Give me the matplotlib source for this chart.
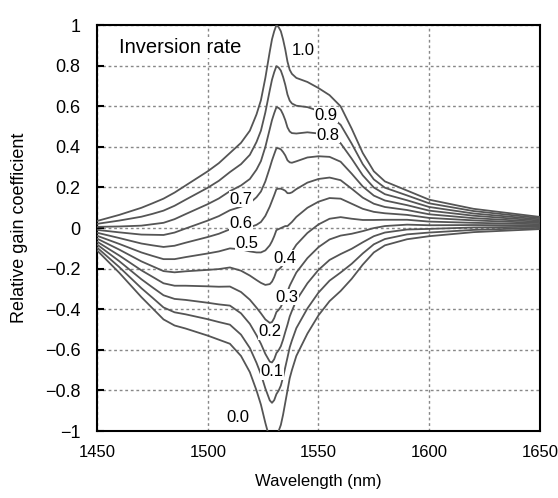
import matplotlib
matplotlib.use("Agg")
import matplotlib.pyplot as plt

plt.rcParams['font.family'] = ['Liberation Sans', 'DejaVu Sans']
plt.rcParams['font.size'] = 12

# wavelength grid (nm)
wavelength = [1450, 1460, 1470, 1475, 1480, 1485, 1490, 1500, 1505, 1510, 1515, 1519,
              1522, 1524, 1526, 1528, 1529, 1530, 1531, 1532, 1533, 1534,
              1535, 1536, 1537, 1538, 1540, 1545, 1550, 1555, 1560, 1565,
              1570, 1575, 1580, 1590, 1600, 1620, 1650]

# relative gain, one list per inversion rate
g00 = [-0.11, -0.22, -0.34, -0.395, -0.45, -0.48, -0.495, -0.53, -0.55, -0.57, -0.63, -0.71,
       -0.80, -0.87, -0.96, -1.04, -1.06, -1.05, -1.02, -1.00, -0.97, -0.92,
       -0.86, -0.80, -0.74, -0.70, -0.63, -0.52, -0.43, -0.36, -0.31, -0.25,
       -0.18, -0.12, -0.085, -0.055, -0.04, -0.02, -0.005]
g01 = [-0.096, -0.192, -0.296, -0.343, -0.391, -0.415, -0.425, -0.449, -0.463, -0.476, -0.525, -0.591,
       -0.664, -0.72, -0.79, -0.849, -0.861, -0.848, -0.818, -0.801, -0.776, -0.735,
       -0.686, -0.638, -0.588, -0.554, -0.493, -0.396, -0.318, -0.259, -0.219, -0.176,
       -0.125, -0.08, -0.054, -0.031, -0.022, -0.009, 0.001]
g02 = [-0.081, -0.163, -0.252, -0.292, -0.331, -0.349, -0.354, -0.368, -0.376, -0.382, -0.42, -0.472,
       -0.528, -0.57, -0.62, -0.658, -0.662, -0.646, -0.616, -0.602, -0.582, -0.55,
       -0.512, -0.476, -0.436, -0.408, -0.356, -0.272, -0.206, -0.157, -0.128, -0.102,
       -0.07, -0.04, -0.022, -0.007, -0.004, 0.003, 0.007]
g03 = [-0.067, -0.135, -0.208, -0.240, -0.272, -0.284, -0.284, -0.287, -0.289, -0.288, -0.315, -0.353,
       -0.392, -0.42, -0.45, -0.467, -0.463, -0.444, -0.414, -0.403, -0.388, -0.365,
       -0.338, -0.314, -0.284, -0.262, -0.219, -0.148, -0.094, -0.056, -0.037, -0.028,
       -0.015, 0.0, 0.010, 0.017, 0.014, 0.015, 0.013]
g04 = [-0.052, -0.106, -0.164, -0.188, -0.212, -0.218, -0.213, -0.206, -0.202, -0.194, -0.21, -0.234,
       -0.256, -0.27, -0.28, -0.276, -0.264, -0.242, -0.212, -0.204, -0.194, -0.18,
       -0.164, -0.152, -0.132, -0.116, -0.082, -0.024, 0.018, 0.046, 0.054, 0.046,
       0.04, 0.04, 0.041, 0.041, 0.032, 0.026, 0.019]
g05 = [-0.038, -0.078, -0.12, -0.137, -0.153, -0.153, -0.143, -0.125, -0.115, -0.10, -0.105, -0.115,
       -0.12, -0.12, -0.11, -0.085, -0.065, -0.04, -0.01, -0.005, 0.0, 0.005,
       0.01, 0.01, 0.02, 0.03, 0.055, 0.10, 0.13, 0.148, 0.145, 0.12,
       0.095, 0.08, 0.073, 0.065, 0.05, 0.038, 0.025]
g06 = [-0.023, -0.049, -0.076, -0.085, -0.093, -0.087, -0.072, -0.044, -0.028, -0.006, 0.0, 0.004,
       0.016, 0.03, 0.06, 0.106, 0.134, 0.162, 0.192, 0.194, 0.194, 0.19,
       0.184, 0.172, 0.172, 0.176, 0.192, 0.224, 0.242, 0.249, 0.236, 0.194,
       0.15, 0.12, 0.104, 0.089, 0.068, 0.049, 0.031]
g07 = [-0.009, -0.021, -0.032, -0.033, -0.034, -0.022, -0.002, 0.037, 0.059, 0.088, 0.105, 0.123,
       0.152, 0.18, 0.23, 0.297, 0.333, 0.364, 0.394, 0.393, 0.388, 0.375,
       0.358, 0.334, 0.324, 0.322, 0.329, 0.348, 0.354, 0.351, 0.327, 0.268,
       0.205, 0.16, 0.136, 0.113, 0.086, 0.061, 0.037]
g08 = [0.006, 0.008, 0.012, 0.019, 0.026, 0.044, 0.069, 0.118, 0.146, 0.182, 0.21, 0.242,
       0.288, 0.33, 0.40, 0.488, 0.532, 0.566, 0.596, 0.592, 0.582, 0.56,
       0.532, 0.496, 0.476, 0.468, 0.466, 0.472, 0.466, 0.452, 0.418, 0.342,
       0.26, 0.20, 0.167, 0.137, 0.104, 0.072, 0.043]
g09 = [0.021, 0.037, 0.056, 0.070, 0.086, 0.110, 0.14, 0.199, 0.233, 0.276, 0.315, 0.361,
       0.424, 0.48, 0.57, 0.679, 0.731, 0.768, 0.798, 0.791, 0.776, 0.745,
       0.706, 0.658, 0.628, 0.614, 0.603, 0.596, 0.578, 0.554, 0.509, 0.416,
       0.315, 0.24, 0.199, 0.161, 0.122, 0.084, 0.049]
g10 = [0.035, 0.065, 0.10, 0.122, 0.145, 0.175, 0.21, 0.28, 0.32, 0.37, 0.42, 0.48,
       0.56, 0.63, 0.74, 0.87, 0.93, 0.97, 1.00, 0.99, 0.97, 0.93,
       0.88, 0.82, 0.78, 0.76, 0.74, 0.72, 0.69, 0.655, 0.60, 0.49,
       0.37, 0.28, 0.23, 0.185, 0.14, 0.095, 0.055]

curves = [g00, g01, g02, g03, g04, g05, g06, g07, g08, g09, g10]
rate_labels = ["0.0", "0.1", "0.2", "0.3", "0.4", "0.5", "0.6", "0.7", "0.8", "0.9", "1.0"]
# where each label sits (wavelength, gain)
label_x = [1513.7, 1529.0, 1528.1, 1535.8, 1534.9, 1517.7, 1515.0, 1515.0, 1554.3, 1553.4, 1543.0]
label_y = [-0.933, -0.709, -0.512, -0.340, -0.148, -0.074, 0.025, 0.143, 0.458, 0.557, 0.877]

xticks = [1450, 1500, 1550, 1600, 1650]
yticks = [-1, -0.8, -0.6, -0.4, -0.2, 0, 0.2, 0.4, 0.6, 0.8, 1]
ytick_labels = ["\u22121", "\u22120.8", "\u22120.6", "\u22120.4", "\u22120.2", "0",
                "0.2", "0.4", "0.6", "0.8", "1"]

fig = plt.figure(figsize=(5.58, 4.98), dpi=100)
ax = fig.add_axes([0.174, 0.1345, 0.7935, 0.815])

for g in curves:
    ax.plot(wavelength, g, color="#555555", lw=1.3, zorder=3)

for lab, lx, ly in zip(rate_labels, label_x, label_y):
    ax.text(lx, ly, lab, ha="center", va="center", fontsize=12, zorder=5,
            bbox=dict(facecolor="white", edgecolor="none", pad=0.6))

ax.text(1459.9, 0.89, "Inversion rate", ha="left", va="center", fontsize=14.5, zorder=5,
        bbox=dict(facecolor="white", edgecolor="none", pad=0.5))

ax.set_xlim(1450, 1650)
ax.set_ylim(-1, 1)
ax.set_xticks(xticks)
ax.set_yticks(yticks)
ax.set_yticklabels(ytick_labels)
ax.grid(True, color="#888888", linestyle=(0, (2, 2)), linewidth=1.0, zorder=1)
ax.set_axisbelow(True)

ax.tick_params(axis="x", length=0, pad=10, labelsize=12)
ax.tick_params(axis="y", direction="in", length=5, width=1.5, pad=12, labelsize=13)
for s in ax.spines.values():
    s.set_linewidth(1.5)

ax.set_xlabel("Wavelength (nm)", fontsize=12)
ax.set_ylabel("Relative gain coefficient", fontsize=13)
ax.xaxis.set_label_coords(0.5, -0.105)
ax.yaxis.set_label_coords(-0.155, 0.5)

fig.savefig("out.png", dpi=100)
